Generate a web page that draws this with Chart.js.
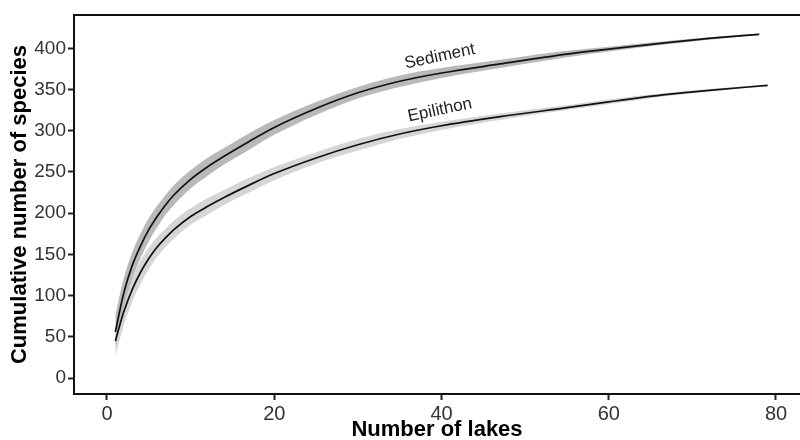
<!DOCTYPE html>
<html lang="en">
<head>
  <meta charset="UTF-8" />
  <title>Species accumulation</title>
  <script src="https://cdn.jsdelivr.net/npm/chart.js@4.4.0/dist/chart.umd.min.js"></script>
  <style>
    html, body { margin: 0; padding: 0; background: #fff; }
  </style>
</head>
<body>
  <canvas id="curves" width="800" height="440"></canvas>
  <script>
    // values
    const sedLakes = [1, 2, 3, 4, 5, 6, 7, 8, 10, 12, 14, 17, 20, 25, 30, 35, 40, 47, 55, 60, 67, 72, 78];
    const sedSpecies = [56, 103, 136, 160, 180, 196, 210, 222, 241, 256, 269, 287, 304, 327, 346, 360, 370, 381, 393, 399, 407, 412, 417];
    const sedBand = [20, 18, 16, 15, 14, 13, 12, 12, 11, 11, 10, 10, 9, 8, 7, 7, 6, 5, 4, 3, 2, 1.5, 1];

    const epiLakes = [1, 2, 3, 4, 5, 6, 7, 8, 10, 12, 14, 17, 20, 25, 30, 35, 40, 47, 55, 60, 67, 72, 79];
    const epiSpecies = [45, 80, 107, 128, 145, 159, 170, 180, 196, 208, 219, 234, 248, 267, 283, 296, 306, 317, 328, 335, 344, 349, 355];
    const epiBand = [18, 16, 15, 14, 13, 12, 11, 11, 10, 10, 9, 9, 8, 7, 7, 6, 5, 4, 3, 3, 2, 1.5, 1];

    const xTicks = [0, 20, 40, 60, 80];
    const yTicks = [0, 50, 100, 150, 200, 250, 300, 350, 400];

    const curveNames = ["Sediment", "Epilithon"];
    const nameX = [39.8, 39.8];
    const nameY = [390, 325];

    function pts(xs, ys, band, sign) {
      return xs.map((x, i) => ({ x: x, y: ys[i] + sign * (band ? band[i] : 0) }));
    }

    function bandSet(data, fill, color) {
      return {
        data: data,
        borderWidth: 0,
        pointRadius: 0,
        fill: fill,
        backgroundColor: color,
        cubicInterpolationMode: "monotone",
      };
    }

    function lineSet(data) {
      return {
        data: data,
        borderColor: "#111",
        borderWidth: 1.7,
        pointRadius: 0,
        fill: false,
        cubicInterpolationMode: "monotone",
      };
    }

    const frameTop = {
      id: "frameTop",
      afterDraw(chart) {
        const a = chart.chartArea;
        const ctx = chart.ctx;
        ctx.save();
        ctx.strokeStyle = "#111";
        ctx.lineWidth = 2;
        ctx.beginPath();
        ctx.moveTo(a.left - 1, a.top);
        ctx.lineTo(a.right, a.top);
        ctx.stroke();
        ctx.restore();
      },
    };

    const curveText = {
      id: "curveText",
      afterDatasetsDraw(chart) {
        const ctx = chart.ctx;
        const sx = chart.scales.x;
        const sy = chart.scales.y;
        ctx.save();
        ctx.font = "17px 'Liberation Sans', Arial, sans-serif";
        ctx.fillStyle = "#222";
        ctx.textAlign = "center";
        ctx.textBaseline = "middle";
        curveNames.forEach((name, i) => {
          ctx.save();
          ctx.translate(sx.getPixelForValue(nameX[i]), sy.getPixelForValue(nameY[i]));
          ctx.rotate(-12 * Math.PI / 180);
          ctx.fillText(name, 0, 0);
          ctx.restore();
        });
        ctx.restore();
      },
    };

    // chart.js paints dataset 0 last, so the lines go first
    new Chart(document.getElementById("curves").getContext("2d"), {
      type: "line",
      data: {
        datasets: [
          lineSet(pts(sedLakes, sedSpecies, null, 0)),
          lineSet(pts(epiLakes, epiSpecies, null, 0)),
          bandSet(pts(sedLakes, sedSpecies, sedBand, 1), false, "#b9b9b9"),
          bandSet(pts(sedLakes, sedSpecies, sedBand, -1), "-1", "#b9b9b9"),
          bandSet(pts(epiLakes, epiSpecies, epiBand, 1), false, "#d6d6d6"),
          bandSet(pts(epiLakes, epiSpecies, epiBand, -1), "-1", "#d6d6d6"),
        ],
      },
      options: {
        responsive: false,
        animation: false,
        devicePixelRatio: 1,
        layout: { padding: { top: 15, left: 0, right: 0, bottom: 0 } },
        plugins: { legend: { display: false }, tooltip: { enabled: false } },
        scales: {
          x: {
            type: "linear",
            min: -3.946,
            max: 82.87,
            afterBuildTicks: (s) => { s.ticks = xTicks.map((v) => ({ value: v })); },
            afterFit: (s) => { s.height = 46; },
            grid: { drawOnChartArea: false, drawTicks: true, tickLength: 6, tickColor: "#222", tickWidth: 2 },
            border: { display: true, color: "#111", width: 2 },
            ticks: {
              padding: 2,
              maxRotation: 0,
              color: "#333",
              font: { family: "'Liberation Sans', Arial, sans-serif", size: 20 },
            },
            title: {
              display: true,
              text: "Number of lakes",
              color: "#000",
              padding: { top: 0, bottom: -1 },
              font: { family: "'Liberation Sans', Arial, sans-serif", size: 22, weight: "bold", lineHeight: 1 },
            },
          },
          y: {
            min: -19.4,
            max: 440.4,
            afterBuildTicks: (s) => { s.ticks = yTicks.map((v) => ({ value: v })); },
            afterFit: (s) => { s.width = 74; },
            grid: { drawOnChartArea: false, drawTicks: true, tickLength: 6, tickColor: "#222", tickWidth: 2 },
            border: { display: true, color: "#111", width: 2 },
            ticks: {
              padding: 2,
              color: "#333",
              font: { family: "'Liberation Sans', Arial, sans-serif", size: 19 },
            },
            title: {
              display: true,
              text: "Cumulative number of species",
              color: "#000",
              padding: { top: 7, bottom: 0 },
              font: { family: "'Liberation Sans', Arial, sans-serif", size: 22, weight: "bold" },
            },
          },
        },
      },
      plugins: [frameTop, curveText],
    });
  </script>
</body>
</html>
